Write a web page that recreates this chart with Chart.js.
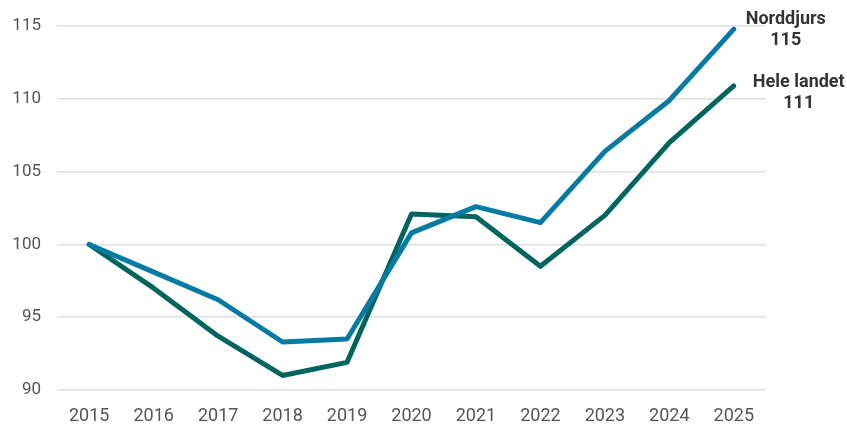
<!DOCTYPE html>
<html>
<head>
<meta charset="utf-8">
<script src="https://cdn.jsdelivr.net/npm/chart.js@4"></script>
<style>
  html, body { margin: 0; padding: 0; background: #fff; }
  #wrap { width: 847px; height: 425px; }
</style>
</head>
<body>
<div id="wrap"><canvas id="chart"></canvas></div>
<script>
const years = ["2015", "2016", "2017", "2018", "2019", "2020", "2021", "2022", "2023", "2024", "2025"];
const norddjurs = [100, 98.1, 96.2, 93.3, 93.5, 100.8, 102.6, 101.5, 106.4, 109.9, 114.8];
const heleLandet = [100, 97.0, 93.7, 91.0, 91.9, 102.1, 101.9, 98.5, 102.0, 107.0, 110.9];
const endLabels = [["Norddjurs", "115"], ["Hele landet", "111"]];

// where the end labels sit relative to the last point
const labelOffsets = [
  { dx: 52, dy1: -10, dy2: 11 },
  { dx: 65, dy1: -3, dy2: 18 }
];

const endLabelPlugin = {
  id: "endLabels",
  afterDatasetsDraw(chart) {
    const ctx = chart.ctx;
    ctx.save();
    ctx.font = "bold 18px Roboto";
    ctx.fillStyle = "#333333";
    ctx.textAlign = "center";
    ctx.textBaseline = "middle";
    chart.data.datasets.forEach((ds, i) => {
      const meta = chart.getDatasetMeta(i);
      const pt = meta.data[meta.data.length - 1];
      const off = labelOffsets[i];
      ctx.fillText(endLabels[i][0], pt.x + off.dx, pt.y + off.dy1);
      ctx.fillText(endLabels[i][1], pt.x + off.dx, pt.y + off.dy2);
    });
    ctx.restore();
  }
};

new Chart(document.getElementById("chart"), {
  type: "line",
  data: {
    labels: years,
    datasets: [
      {
        label: "Norddjurs",
        data: norddjurs,
        borderColor: "#057AA2",
        borderWidth: 5,
        pointRadius: 0,
        tension: 0,
        borderCapStyle: "round",
        borderJoinStyle: "round"
      },
      {
        label: "Hele landet",
        data: heleLandet,
        borderColor: "#00655E",
        borderWidth: 5,
        pointRadius: 0,
        tension: 0,
        borderCapStyle: "round",
        borderJoinStyle: "round"
      }
    ]
  },
  options: {
    responsive: true,
    maintainAspectRatio: false,
    animation: false,
    layout: { padding: { top: 18, right: 81, bottom: 0, left: 0 } },
    plugins: {
      legend: { display: false },
      tooltip: { enabled: false }
    },
    scales: {
      x: {
        offset: true,
        grid: { display: false, drawTicks: false },
        border: { display: false },
        afterFit: (scale) => { scale.height = 35; },
        ticks: {
          color: "#555555",
          font: { family: "Roboto", size: 18 },
          padding: 16,
          maxRotation: 0
        }
      },
      y: {
        min: 90,
        max: 115,
        grid: { color: "#e0e0e0", lineWidth: 1.5, drawTicks: false },
        border: { display: false },
        afterFit: (scale) => { scale.width = 57; },
        ticks: {
          stepSize: 5,
          color: "#555555",
          font: { family: "Roboto", size: 17 },
          padding: 16
        }
      }
    }
  },
  plugins: [endLabelPlugin]
});
</script>
</body>
</html>
